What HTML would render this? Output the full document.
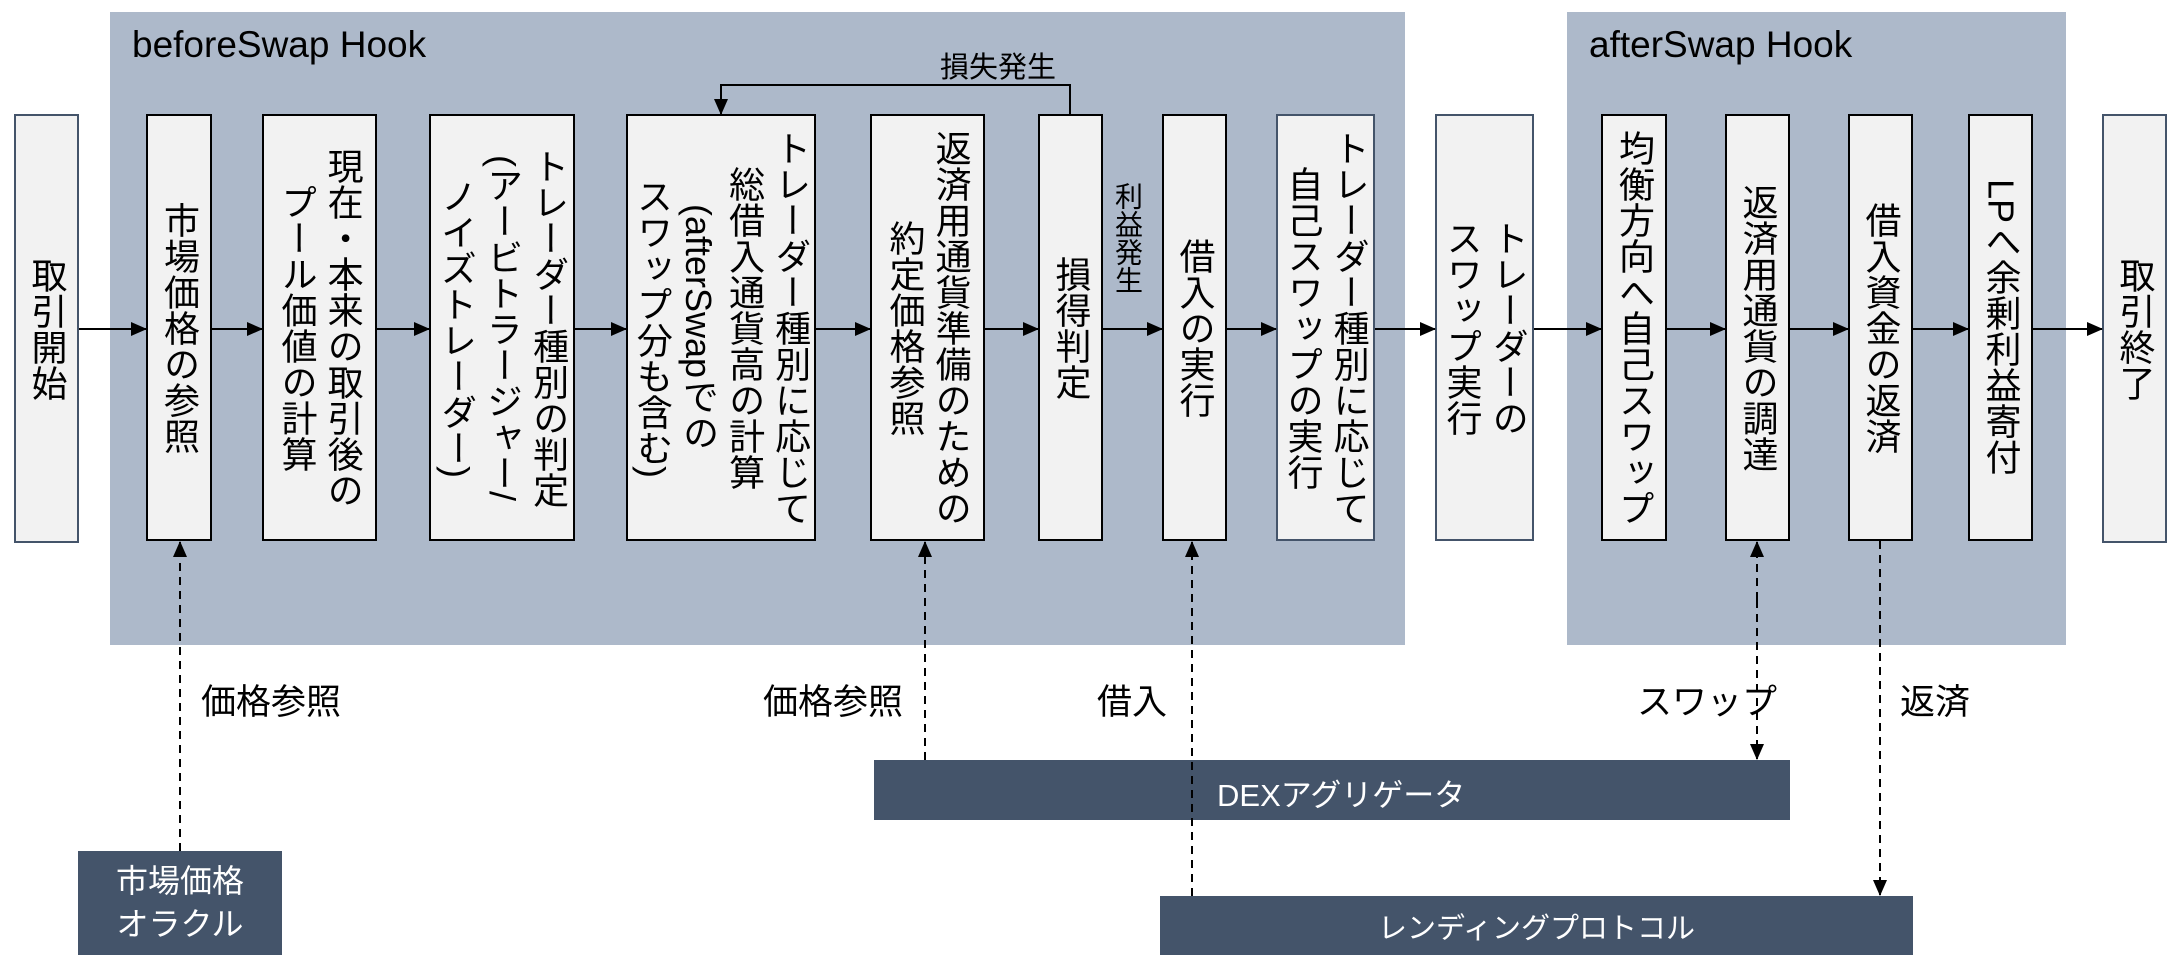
<!DOCTYPE html>
<html><head><meta charset="utf-8"><style>
body{margin:0;width:2176px;height:972px;background:#fff;position:relative;overflow:hidden;font-family:"Liberation Sans","Noto Sans CJK JP",sans-serif;}
.reg{position:absolute;background:#adb9ca;}
.b{position:absolute;top:114px;height:427px;background:#f2f2f2;border:2px solid #000;box-sizing:border-box;display:flex;align-items:center;justify-content:center;}
.b.bl{border-color:#44546a;}
.b span{writing-mode:vertical-rl;font-size:36px;line-height:1.28;text-align:center;color:#000;white-space:nowrap;}
.lab{position:absolute;font-size:35px;color:#000;white-space:nowrap;}
.dk{position:absolute;background:#44546a;color:#fff;font-size:32px;}
svg{position:absolute;left:0;top:0;}
</style></head><body>
<div class="reg" style="left:110px;top:12px;width:1295px;height:633px"></div>
<div class="reg" style="left:1567px;top:12px;width:499px;height:633px"></div>
<div class="lab" style="left:132px;top:24px;font-size:37px">beforeSwap Hook</div>
<div class="lab" style="left:1589px;top:24px;font-size:37px">afterSwap Hook</div>

<div class="b bl" style="left:14px;width:65px;height:429px"><span>取引開始</span></div>
<div class="b" style="left:146px;width:66px"><span>市場価格の参照</span></div>
<div class="b" style="left:262px;width:115px"><span>現在・本来の取引後の<br>プール価値の計算</span></div>
<div class="b" style="left:429px;width:146px"><span>トレーダー種別の判定<br>(アービトラージャー/<br>ノイズトレーダー)</span></div>
<div class="b" style="left:626px;width:190px"><span>トレーダー種別に応じて<br>総借入通貨高の計算<br>(afterSwapでの<br>スワップ分も含む)</span></div>
<div class="b" style="left:870px;width:115px"><span>返済用通貨準備のための<br>約定価格参照</span></div>
<div class="b" style="left:1038px;width:65px"><span>損得判定</span></div>
<div class="b" style="left:1162px;width:65px"><span>借入の実行</span></div>
<div class="b bl" style="left:1276px;width:99px"><span>トレーダー種別に応じて<br>自己スワップの実行</span></div>
<div class="b bl" style="left:1435px;width:99px"><span>トレーダーの<br>スワップ実行</span></div>
<div class="b" style="left:1601px;width:66px"><span>均衡方向へ自己スワップ</span></div>
<div class="b" style="left:1725px;width:65px"><span>返済用通貨の調達</span></div>
<div class="b" style="left:1848px;width:65px"><span>借入資金の返済</span></div>
<div class="b" style="left:1968px;width:65px"><span>LPへ余剰利益寄付</span></div>
<div class="b bl" style="left:2102px;width:65px;height:429px"><span>取引終了</span></div>

<div class="lab" style="left:940px;top:44px;font-size:29px">損失発生</div>
<div class="lab" style="left:1113px;top:182px;font-size:28px;writing-mode:vertical-rl;line-height:1">利益発生</div>

<div class="lab" style="left:201px;top:674px">価格参照</div>
<div class="lab" style="left:763px;top:674px">価格参照</div>
<div class="lab" style="left:1097px;top:674px">借入</div>
<div class="lab" style="left:1637px;top:674px">スワップ</div>
<div class="lab" style="left:1900px;top:674px">返済</div>

<div class="dk" style="left:78px;top:851px;width:204px;height:104px;display:flex;align-items:center;justify-content:center;text-align:center;line-height:1.35;font-size:32px">市場価格<br>オラクル</div>
<div class="dk" style="left:874px;top:760px;width:916px;height:60px;"><div style="position:absolute;left:343px;top:10px;font-size:31px">DEXアグリゲータ</div></div>
<div class="dk" style="left:1160px;top:896px;width:753px;height:59px;display:flex;align-items:center;justify-content:center;font-size:29px">レンディングプロトコル</div>

<svg width="2176" height="972">
<defs><marker id="s" markerWidth="16" markerHeight="14" refX="15" refY="7" orient="auto" markerUnits="userSpaceOnUse"><path d="M0,0 L16,7 L0,14 z" fill="#000"/></marker></defs>
<g stroke="#000" stroke-width="2" fill="none" marker-end="url(#s)">
<line x1="79" y1="329" x2="146" y2="329"/>
<line x1="212" y1="329" x2="262" y2="329"/>
<line x1="377" y1="329" x2="429" y2="329"/>
<line x1="575" y1="329" x2="626" y2="329"/>
<line x1="816" y1="329" x2="870" y2="329"/>
<line x1="985" y1="329" x2="1038" y2="329"/>
<line x1="1103" y1="329" x2="1162" y2="329"/>
<line x1="1227" y1="329" x2="1276" y2="329"/>
<line x1="1375" y1="329" x2="1435" y2="329"/>
<line x1="1534" y1="329" x2="1601" y2="329"/>
<line x1="1667" y1="329" x2="1725" y2="329"/>
<line x1="1790" y1="329" x2="1848" y2="329"/>
<line x1="1913" y1="329" x2="1968" y2="329"/>
<line x1="2033" y1="329" x2="2102" y2="329"/>
<polyline points="1070,114 1070,85 721,85 721,114"/>
</g>
<g stroke="#000" stroke-width="2" fill="none" stroke-dasharray="8,6" marker-end="url(#s)">
<line x1="180" y1="851" x2="180" y2="542"/>
<line x1="925" y1="760" x2="925" y2="542"/>
<line x1="1192" y1="896" x2="1192" y2="542"/>
<line x1="1757" y1="600" x2="1757" y2="542"/>
<line x1="1757" y1="600" x2="1757" y2="759"/>
<line x1="1880" y1="541" x2="1880" y2="895"/>
</g>
</svg>
</body></html>
